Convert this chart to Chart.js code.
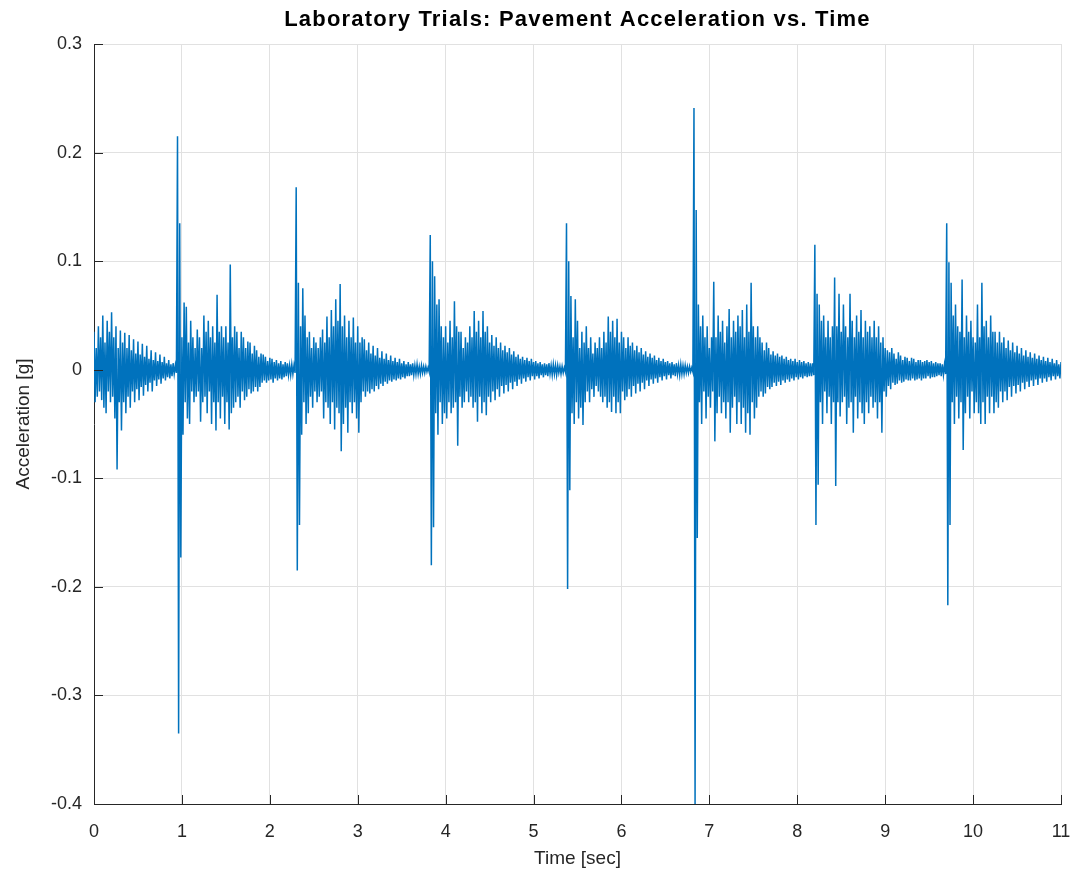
<!DOCTYPE html>
<html lang="en">
<head>
    <meta charset="UTF-8">
    <title>Laboratory Trials: Pavement Acceleration vs. Time</title>
    <script src="https://cdn.jsdelivr.net/npm/chart.js"></script>
    <style>
        body { margin: 0; background: #fff; }
        #wrap { width: 1075px; height: 878px; }
    </style>
</head>
<body>
    <div id="wrap"><canvas id="accChart" width="1075" height="878"></canvas></div>

    <script>
        // sample spacing (sec) and the start time of each recorded burst
        const dt = 0.0125;
        const burstStart = [0, 0.95, 2.3, 3.825, 5.375, 6.825, 8.2, 9.7];
        const tEnd = 11;

        // acceleration samples [g] (10 per row = 0.125 s)
        const burst0 = [
            0.035, -0.03, 0.02, -0.025, 0.04, -0.02, 0.03, -0.028, 0.05, -0.035,
            0.025, -0.04, 0.045, -0.02, 0.035, -0.03, 0.053, -0.025, 0.03, -0.045,
            0.04, -0.092, 0.02, -0.03, 0.036, -0.056, 0.025, -0.03, 0.034, -0.04,
            0.02, -0.025, 0.032, -0.035, 0.018, -0.02, 0.028, -0.03, 0.015, -0.018,
            0.026, -0.028, 0.014, -0.016, 0.024, -0.024, 0.012, -0.014, 0.022, -0.02,
            0.01, -0.012, 0.018, -0.02, 0.009, -0.01, 0.016, -0.015, 0.008, -0.009,
            0.014, -0.013, 0.007, -0.008, 0.012, -0.01, 0.006, -0.007, 0.009, -0.008,
            0.005, -0.006, 0.006, -0.004, 0.004, -0.003];
        const burst1 = [
            0.215, -0.335, 0.135, -0.173, 0.03, -0.06, 0.062, -0.03, 0.058, -0.045,
            0.025, -0.05, 0.045, -0.02, 0.03, -0.03, 0.02, -0.025, 0.037, -0.02,
            0.03, -0.048, 0.02, -0.03, 0.05, -0.025, 0.035, -0.04, 0.045, -0.02,
            0.03, -0.05, 0.04, -0.03, 0.025, -0.056, 0.069, -0.03, 0.035, -0.045,
            0.04, -0.025, 0.03, -0.05, 0.04, -0.03, 0.025, -0.055, 0.097, -0.04,
            0.03, -0.035, 0.04, -0.03, 0.035, -0.025, 0.02, -0.035, 0.035, -0.02,
            0.03, -0.028, 0.02, -0.025, 0.026, -0.018, 0.025, -0.022, 0.015, -0.02,
            0.022, -0.016, 0.018, -0.02, 0.012, -0.016, 0.015, -0.012, 0.014, -0.01,
            0.012, -0.012, 0.008, -0.01, 0.011, -0.009, 0.01, -0.012, 0.007, -0.008,
            0.009, -0.01, 0.006, -0.008, 0.008, -0.009, 0.005, -0.007, 0.007, -0.006,
            0.006, -0.005, 0.004, -0.005, 0.005, -0.004, 0.004, -0.003];
        const burst2 = [
            0.168, -0.185, 0.08, -0.143, 0.04, -0.06, 0.075, -0.03, 0.05, -0.05,
            0.03, -0.04, 0.035, -0.025, 0.02, -0.035, 0.03, -0.02, 0.025, -0.03,
            0.02, -0.025, 0.03, -0.02, 0.037, -0.045, 0.025, -0.03, 0.049, -0.035,
            0.03, -0.05, 0.055, -0.03, 0.04, -0.055, 0.065, -0.035, 0.045, -0.04,
            0.079, -0.075, 0.04, -0.05, 0.05, -0.035, 0.03, -0.058, 0.045, -0.03,
            0.03, -0.04, 0.048, -0.03, 0.025, -0.045, 0.04, -0.058, 0.025, -0.03,
            0.03, -0.02, 0.028, -0.025, 0.018, -0.02, 0.025, -0.022, 0.015, -0.018,
            0.022, -0.02, 0.013, -0.015, 0.02, -0.018, 0.011, -0.013, 0.017, -0.015,
            0.01, -0.011, 0.015, -0.013, 0.009, -0.01, 0.013, -0.011, 0.008, -0.009,
            0.011, -0.01, 0.007, -0.008, 0.01, -0.009, 0.006, -0.007, 0.008, -0.008,
            0.005, -0.006, 0.007, -0.006, 0.005, -0.005, 0.006, -0.005, 0.004, -0.004,
            0.005, -0.004, 0.003, -0.004, 0.004, -0.003, 0.003, -0.003, 0.003, -0.002,
            0.002, -0.002];
        const burst3 = [
            0.124, -0.18, 0.10, -0.145, 0.086, -0.04, 0.06, -0.06, 0.065, -0.03,
            0.04, -0.05, 0.03, -0.04, 0.04, -0.045, 0.025, -0.03, 0.045, -0.04,
            0.03, -0.035, 0.063, -0.03, 0.04, -0.07, 0.035, -0.025, 0.035, -0.035,
            0.02, -0.03, 0.03, -0.02, 0.025, -0.03, 0.04, -0.025, 0.03, -0.035,
            0.054, -0.03, 0.035, -0.048, 0.045, -0.025, 0.03, -0.04, 0.054, -0.03,
            0.035, -0.042, 0.04, -0.025, 0.025, -0.03, 0.032, -0.02, 0.022, -0.028,
            0.03, -0.018, 0.02, -0.025, 0.025, -0.015, 0.018, -0.022, 0.022, -0.014,
            0.016, -0.02, 0.02, -0.012, 0.014, -0.018, 0.017, -0.011, 0.012, -0.015,
            0.014, -0.009, 0.01, -0.013, 0.012, -0.008, 0.009, -0.011, 0.011, -0.007,
            0.008, -0.01, 0.01, -0.006, 0.007, -0.009, 0.008, -0.006, 0.006, -0.008,
            0.007, -0.005, 0.005, -0.007, 0.006, -0.005, 0.005, -0.006, 0.006, -0.004,
            0.004, -0.005, 0.005, -0.004, 0.004, -0.005, 0.004, -0.003, 0.003, -0.004,
            0.003, -0.003, 0.002, -0.002];
        const burst4 = [
            0.135, -0.202, 0.10, -0.111, 0.068, -0.04, 0.03, -0.05, 0.065, -0.03,
            0.045, -0.045, 0.02, -0.035, 0.035, -0.051, 0.025, -0.03, 0.04, -0.02,
            0.02, -0.03, 0.03, -0.018, 0.015, -0.025, 0.025, -0.015, 0.02, -0.02,
            0.03, -0.025, 0.02, -0.03, 0.035, -0.025, 0.025, -0.035, 0.049, -0.03,
            0.035, -0.039, 0.045, -0.025, 0.03, -0.04, 0.047, -0.03, 0.025, -0.04,
            0.035, -0.02, 0.03, -0.028, 0.02, -0.025, 0.03, -0.018, 0.022, -0.025,
            0.025, -0.015, 0.018, -0.022, 0.022, -0.013, 0.016, -0.02, 0.02, -0.012,
            0.014, -0.018, 0.017, -0.01, 0.012, -0.015, 0.015, -0.009, 0.011, -0.013,
            0.013, -0.008, 0.009, -0.012, 0.011, -0.007, 0.008, -0.01, 0.01, -0.006,
            0.007, -0.009, 0.008, -0.005, 0.006, -0.008, 0.007, -0.005, 0.005, -0.006,
            0.006, -0.004, 0.004, -0.005, 0.005, -0.004, 0.004, -0.004, 0.004, -0.003,
            0.003, -0.003, 0.003, -0.002, 0.002, -0.002];
        const burst5 = [
            0.241, -0.40, 0.147, -0.155, 0.06, -0.03, 0.04, -0.05, 0.05, -0.02,
            0.03, -0.045, 0.04, -0.025, 0.02, -0.035, 0.03, -0.02, 0.081, -0.066,
            0.03, -0.04, 0.05, -0.025, 0.035, -0.04, 0.045, -0.03, 0.025, -0.045,
            0.04, -0.03, 0.056, -0.058, 0.03, -0.035, 0.045, -0.025, 0.035, -0.05,
            0.05, -0.03, 0.04, -0.05, 0.055, -0.035, 0.03, -0.058, 0.06, -0.04,
            0.035, -0.06, 0.08, -0.03, 0.04, -0.045, 0.03, -0.035, 0.04, -0.025,
            0.03, -0.02, 0.025, -0.025, 0.018, -0.022, 0.025, -0.016, 0.02, -0.018,
            0.014, -0.016, 0.017, -0.012, 0.013, -0.015, 0.015, -0.011, 0.012, -0.014,
            0.013, -0.01, 0.01, -0.012, 0.012, -0.009, 0.009, -0.011, 0.01, -0.008,
            0.008, -0.01, 0.01, -0.007, 0.007, -0.009, 0.009, -0.007, 0.007, -0.008,
            0.008, -0.006, 0.006, -0.007, 0.007, -0.006, 0.006, -0.006, 0.006, -0.005];
        const burst6 = [
            0.115, -0.143, 0.07, -0.106, 0.06, -0.03, 0.045, -0.05, 0.05, -0.02,
            0.03, -0.04, 0.045, -0.025, 0.03, -0.05, 0.04, -0.03, 0.085, -0.107,
            0.04, -0.03, 0.07, -0.043, 0.035, -0.03, 0.06, -0.025, 0.04, -0.05,
            0.03, -0.035, 0.07, -0.03, 0.045, -0.058, 0.03, -0.025, 0.05, -0.045,
            0.035, -0.03, 0.055, -0.04, 0.03, -0.05, 0.045, -0.03, 0.035, -0.04,
            0.04, -0.025, 0.03, -0.035, 0.045, -0.03, 0.03, -0.045, 0.04, -0.03,
            0.025, -0.058, 0.03, -0.02, 0.02, -0.025, 0.018, -0.015, 0.016, -0.018,
            0.02, -0.012, 0.015, -0.014, 0.01, -0.013, 0.016, -0.01, 0.013, -0.012,
            0.009, -0.011, 0.012, -0.009, 0.011, -0.01, 0.008, -0.01, 0.011, -0.008,
            0.01, -0.01, 0.007, -0.009, 0.009, -0.008, 0.009, -0.01, 0.007, -0.008,
            0.008, -0.008, 0.009, -0.006, 0.007, -0.008, 0.008, -0.007, 0.006, -0.007,
            0.007, -0.006, 0.006, -0.005, 0.006, -0.006, 0.005, -0.005, 0.005, -0.004];
        const burst7 = [
            0.135, -0.217, 0.099, -0.143, 0.08, -0.03, 0.05, -0.05, 0.06, -0.025,
            0.04, -0.045, 0.035, -0.03, 0.083, -0.074, 0.03, -0.04, 0.05, -0.025,
            0.035, -0.045, 0.045, -0.02, 0.03, -0.04, 0.025, -0.03, 0.06, -0.04,
            0.03, -0.05, 0.08, -0.03, 0.04, -0.05, 0.045, -0.025, 0.03, -0.04,
            0.05, -0.025, 0.035, -0.04, 0.035, -0.03, 0.025, -0.035, 0.035, -0.02,
            0.025, -0.03, 0.03, -0.02, 0.02, -0.028, 0.027, -0.016, 0.018, -0.025,
            0.025, -0.015, 0.016, -0.022, 0.022, -0.014, 0.015, -0.02, 0.02, -0.012,
            0.013, -0.018, 0.018, -0.011, 0.012, -0.016, 0.016, -0.01, 0.011, -0.015,
            0.015, -0.009, 0.01, -0.014, 0.013, -0.008, 0.009, -0.012, 0.012, -0.008,
            0.008, -0.011, 0.011, -0.007, 0.007, -0.01, 0.01, -0.006, 0.006, -0.009,
            0.009, -0.006, 0.005, -0.008, 0.007, -0.004, 0.004];
        const bursts = [burst0, burst1, burst2, burst3, burst4, burst5, burst6, burst7];

        // axis ticks
        const xTicks = [0, 1, 2, 3, 4, 5, 6, 7, 8, 9, 10, 11];
        const yTicks = [-0.4, -0.3, -0.2, -0.1, 0, 0.1, 0.2, 0.3];

        const titleText = "Laboratory Trials: Pavement Acceleration vs. Time";

        let points = [];
        bursts.forEach((b, k) => {
            let stop = k + 1 < burstStart.length ? burstStart[k + 1] - 1e-6 : tEnd + 1e-6;
            b.forEach((v, i) => {
                let t = +(burstStart[k] + i * dt).toFixed(4);
                if (t < stop) points.push({ x: t, y: v });
            });
        });

        const textColor = "#262626";
        const gridColor = "#e1e1e1";

        // matlab style: short tick marks pointing into the plot, title centred on the axes
        const matlabLook = {
            id: "matlabLook",
            afterDatasetsDraw(chart) {
                const ctx = chart.ctx;
                const area = chart.chartArea;
                const xs = chart.scales.x, ys = chart.scales.y;
                ctx.save();
                ctx.strokeStyle = textColor;
                ctx.lineWidth = 1;
                ctx.beginPath();
                xTicks.forEach(t => {
                    let px = Math.round(xs.getPixelForValue(t)) + 0.5;
                    ctx.moveTo(px, area.bottom);
                    ctx.lineTo(px, area.bottom - 9);
                });
                yTicks.forEach(t => {
                    let py = Math.round(ys.getPixelForValue(t)) + 0.5;
                    ctx.moveTo(area.left, py);
                    ctx.lineTo(area.left + 9, py);
                });
                ctx.stroke();

                ctx.fillStyle = "#000";
                ctx.font = "bold 22px 'Liberation Sans'";
                ctx.letterSpacing = "1.2px";
                ctx.textAlign = "center";
                ctx.textBaseline = "middle";
                ctx.fillText(titleText, (area.left + area.right) / 2, 20);
                ctx.restore();
            }
        };

        new Chart(document.getElementById("accChart"), {
            type: "line",
            data: {
                datasets: [{
                    data: points,
                    borderColor: "#0072BD",
                    borderWidth: 1.5,
                    pointRadius: 0,
                    tension: 0,
                    fill: false
                }]
            },
            options: {
                responsive: false,
                animation: false,
                layout: { padding: { left: 0, right: 14, top: 44, bottom: 0 } },
                plugins: {
                    legend: { display: false },
                    tooltip: { enabled: false },
                    title: { display: false }
                },
                scales: {
                    x: {
                        type: "linear",
                        min: 0,
                        max: 11,
                        afterBuildTicks: s => { s.ticks = xTicks.map(v => ({ value: v })); },
                        afterFit: s => { s.height = 74; s.paddingLeft = 0; s.paddingRight = 0; },
                        grid: { color: gridColor, drawTicks: false },
                        border: { display: true, color: textColor, width: 1 },
                        ticks: {
                            color: textColor,
                            padding: 17,
                            maxRotation: 0,
                            font: { family: "Liberation Sans", size: 18 }
                        },
                        title: {
                            display: true,
                            text: "Time [sec]",
                            color: textColor,
                            font: { family: "Liberation Sans", size: 19 },
                            padding: { top: 0, bottom: 8 }
                        }
                    },
                    y: {
                        type: "linear",
                        min: -0.4,
                        max: 0.3,
                        afterBuildTicks: s => { s.ticks = yTicks.map(v => ({ value: v })); },
                        afterFit: s => { s.width = 94; s.paddingTop = 0; s.paddingBottom = 0; },
                        grid: { color: gridColor, drawTicks: false },
                        border: { display: true, color: textColor, width: 1 },
                        ticks: {
                            color: textColor,
                            padding: 12,
                            font: { family: "Liberation Sans", size: 18 },
                            callback: v => String(Math.round(v * 10) / 10)
                        },
                        title: {
                            display: true,
                            text: "Acceleration [g]",
                            color: textColor,
                            font: { family: "Liberation Sans", size: 19 },
                            padding: { top: 12, bottom: 0 }
                        }
                    }
                }
            },
            plugins: [matlabLook]
        });
    </script>
</body>
</html>
